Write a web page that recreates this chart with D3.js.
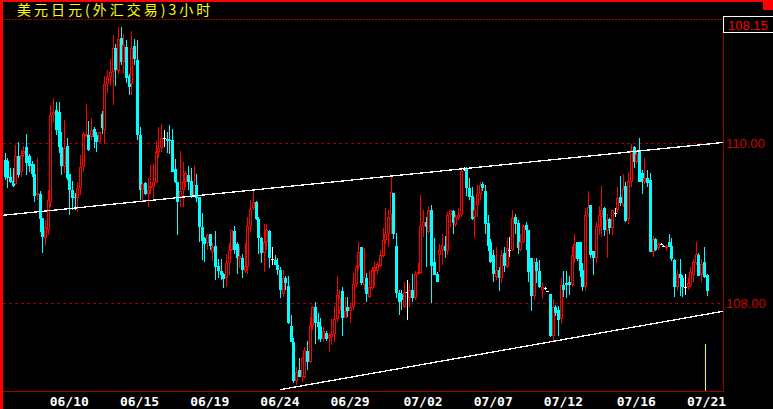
<!DOCTYPE html>
<html><head><meta charset="utf-8">
<script src="https://cdn.jsdelivr.net/npm/d3@7"></script>
<style>html,body{margin:0;padding:0;background:#000;overflow:hidden}svg{display:block}</style>
</head><body>
<script>
// ---------- DATA ----------
const title = "美元日元(外汇交易)3小时";
const open = [109.79,109.78,109.58,109.53,109.49,109.84,109.64,109.87,109.96,109.84,109.74,109.62,109.35,109.37,109.06,108.81,108.92,109.26,110.35,110.42,110.39,109.96,109.71,109.97,109.62,109.42,109.33,109.32,109.44,109.71,110.09,110.11,110.08,110.18,110.10,110.01,110.37,110.17,110.74,110.83,110.89,111.19,110.91,111.31,111.01,111.21,110.84,110.74,111.22,111.04,110.10,109.42,109.50,109.37,109.45,109.46,109.52,109.89,109.94,110.06,110.05,110.04,110.04,109.68,109.52,109.33,109.42,109.52,109.60,109.53,109.34,109.48,109.33,108.95,108.81,108.75,108.87,108.64,108.72,108.47,108.41,108.37,108.32,108.50,108.67,108.90,108.74,108.55,108.57,108.41,108.46,108.97,109.19,109.26,109.05,108.81,108.63,108.77,108.91,108.55,108.54,108.48,108.42,108.12,108.32,108.22,107.72,107.51,107.03,107.17,107.08,107.08,107.40,107.27,107.72,107.95,107.77,107.72,107.55,107.63,107.57,107.58,107.62,107.80,107.90,108.16,107.82,107.95,107.91,107.95,108.24,108.46,108.71,108.23,108.32,108.08,108.19,108.41,108.41,108.47,108.59,108.79,108.87,109.10,109.38,108.72,108.13,108.12,107.95,108.14,108.06,108.17,108.06,108.37,108.38,108.97,109.02,108.89,109.17,108.51,108.37,108.60,108.67,108.72,108.66,109.10,109.16,108.98,109.06,109.10,109.68,109.69,109.44,109.34,109.08,109.23,109.37,109.49,109.41,109.00,108.77,108.60,108.33,108.42,108.31,108.63,108.46,108.67,108.67,109.08,109.00,108.67,108.77,108.98,108.92,108.56,108.09,108.52,108.41,108.17,108.19,108.15,108.12,107.59,107.95,107.92,107.80,108.23,108.25,108.26,108.23,108.55,108.77,108.76,108.42,108.20,109.10,109.23,108.65,108.57,108.96,109.08,109.19,108.91,109.05,108.94,109.13,109.17,109.33,109.23,109.47,109.05,109.52,109.95,109.77,109.92,109.63,109.52,109.56,109.54,108.64,108.80,108.69,108.74,108.72,108.69,108.76,108.72,108.54,108.20,108.37,108.31,108.20,108.20,108.23,108.35,108.50,108.60,108.35,108.51,108.35];
const high = [109.88,109.81,109.69,109.69,109.98,110.02,109.92,109.97,110.12,109.87,109.78,109.74,109.81,109.40,109.06,109.04,109.42,110.48,110.57,110.52,110.51,110.14,110.29,110.07,109.62,109.53,109.38,109.52,109.85,110.14,110.49,110.28,110.32,110.21,110.14,110.14,110.40,110.84,110.92,111.05,111.36,111.24,111.46,111.46,111.37,111.29,110.87,111.40,111.30,111.29,110.21,109.51,109.52,109.56,109.73,109.74,110.03,110.20,110.24,110.17,110.14,110.23,110.18,109.80,109.52,109.90,109.77,109.66,109.72,109.69,109.72,109.62,109.33,109.13,108.83,108.87,108.87,108.75,108.91,108.55,108.55,108.38,108.62,108.75,108.92,108.97,108.76,108.71,108.62,108.75,109.08,109.29,109.41,109.28,109.08,108.83,108.99,108.99,108.92,108.71,108.60,108.57,108.46,108.42,108.34,108.34,107.85,107.56,107.20,107.31,107.33,107.45,107.53,107.83,107.97,108.02,107.88,107.81,107.71,107.65,107.63,107.80,107.97,108.34,108.17,108.20,108.08,108.08,108.00,108.38,108.48,108.77,108.71,108.69,108.38,108.41,108.45,108.51,108.52,108.67,108.94,109.19,109.17,109.58,109.38,108.88,108.17,108.17,108.27,108.29,108.25,108.37,108.41,108.50,109.35,109.17,109.08,109.22,109.23,108.81,108.39,108.74,108.87,108.84,109.14,109.17,109.17,109.12,109.19,109.71,109.71,109.71,109.56,109.45,109.32,109.48,109.52,109.52,109.48,109.11,108.80,108.67,108.71,108.46,108.67,108.71,108.81,108.83,109.17,109.12,109.04,108.87,108.99,109.01,108.92,108.56,108.56,108.56,108.54,108.25,108.21,108.16,108.12,108.05,107.98,107.97,108.31,108.41,108.41,108.34,108.72,108.87,108.77,108.77,108.50,109.19,109.40,109.23,108.66,109.01,109.22,109.47,109.21,109.12,109.06,109.17,109.19,109.46,109.59,109.62,109.52,109.64,109.99,109.97,109.92,110.06,109.67,109.81,109.67,109.63,108.84,108.81,108.76,108.75,108.73,108.73,108.87,108.81,108.55,108.42,108.55,108.35,108.37,108.31,108.45,108.55,108.77,108.63,108.55,108.71,108.37];
const low = [109.54,109.44,109.50,109.46,109.48,109.56,109.58,109.83,109.60,109.64,109.58,109.27,109.29,108.89,108.63,108.72,108.85,109.21,110.27,110.10,109.88,109.60,109.63,109.54,109.11,109.17,109.17,109.14,109.35,109.64,110.08,109.90,110.04,109.94,109.89,110.00,110.12,109.99,110.63,110.72,110.48,110.72,110.87,110.98,110.87,110.75,110.60,110.60,110.98,110.04,109.29,109.28,109.35,109.20,109.37,109.32,109.50,109.82,109.89,109.96,109.88,109.87,109.64,109.50,108.85,109.21,109.21,109.46,109.42,109.31,109.33,109.26,108.77,108.54,108.51,108.67,108.67,108.53,108.29,108.31,108.29,108.19,108.20,108.35,108.66,108.62,108.37,108.44,108.32,108.38,108.37,108.89,109.17,109.04,108.62,108.50,108.39,108.67,108.44,108.48,108.48,108.35,108.06,108.08,108.17,107.74,107.51,107.00,106.98,107.08,107.01,107.06,107.17,107.25,107.67,107.49,107.54,107.51,107.52,107.53,107.39,107.48,107.52,107.77,107.87,107.59,107.81,107.83,107.75,107.92,108.21,108.42,108.23,108.17,108.01,108.07,108.17,108.21,108.37,108.45,108.58,108.74,108.71,108.87,108.80,108.07,107.85,107.92,107.94,107.79,107.96,108.01,108.04,108.35,108.37,108.83,108.45,108.87,108.00,108.35,108.27,108.39,108.48,108.56,108.60,108.96,108.87,108.96,109.04,109.08,109.66,109.34,109.29,109.04,108.82,109.08,109.29,109.40,108.87,108.65,108.50,108.27,108.29,108.16,108.25,108.39,108.44,108.58,108.65,108.87,108.62,108.65,108.75,108.67,108.27,107.91,108.04,108.25,108.19,108.07,108.17,108.14,107.58,107.53,107.84,107.59,107.74,108.08,108.06,108.10,108.21,108.50,108.53,108.33,108.15,108.16,109.08,108.57,108.35,108.50,108.85,108.83,108.84,108.57,108.87,108.85,109.08,109.13,109.22,109.21,109.02,108.99,109.46,109.69,109.74,109.52,109.37,109.49,109.46,108.64,108.58,108.65,108.67,108.73,108.71,108.67,108.70,108.53,108.08,108.17,108.09,108.08,108.10,108.17,108.21,108.26,108.48,108.34,108.26,108.32,108.09];
const close = [109.58,109.57,109.52,109.47,109.84,109.60,109.85,109.90,109.75,109.72,109.62,109.34,109.38,109.05,108.83,108.95,109.29,110.35,110.39,110.17,109.96,109.72,109.94,109.57,109.42,109.32,109.31,109.44,109.71,110.12,110.12,109.92,110.17,110.08,110.02,110.14,110.19,110.74,110.83,110.89,111.19,110.92,111.30,111.01,111.23,110.82,110.71,111.19,111.05,110.10,109.42,109.49,109.37,109.42,109.47,109.52,109.89,109.94,110.06,110.06,110.03,110.03,109.64,109.52,109.27,109.40,109.51,109.63,109.52,109.34,109.48,109.31,108.95,108.78,108.74,108.85,108.72,108.70,108.46,108.41,108.35,108.30,108.50,108.67,108.92,108.67,108.57,108.59,108.42,108.47,108.97,109.18,109.26,109.05,108.81,108.63,108.77,108.92,108.57,108.55,108.48,108.42,108.17,108.31,108.25,107.75,107.51,107.03,107.14,107.08,107.32,107.42,107.27,107.73,107.95,107.75,107.71,107.55,107.65,107.55,107.60,107.62,107.80,108.10,108.06,107.82,107.90,107.90,107.95,108.24,108.46,108.64,108.25,108.33,108.12,108.21,108.42,108.46,108.49,108.61,108.79,108.87,109.08,109.39,108.87,108.13,108.02,108.04,108.14,108.14,108.17,108.06,108.37,108.39,108.97,109.02,108.96,109.17,108.47,108.35,108.27,108.67,108.73,108.66,109.11,109.17,109.00,109.08,109.11,109.66,109.68,109.44,109.33,109.05,109.17,109.37,109.48,109.44,108.99,108.72,108.51,108.37,108.42,108.31,108.60,108.47,108.69,108.67,109.06,108.99,108.69,108.77,108.97,108.92,108.39,108.09,108.52,108.41,108.20,108.20,108.19,108.15,107.59,107.95,107.88,107.79,108.23,108.17,108.23,108.23,108.60,108.74,108.55,108.41,108.20,109.10,109.20,108.60,108.57,108.97,109.10,109.17,108.92,109.04,108.94,109.17,109.13,109.32,109.25,109.43,109.03,109.53,109.92,109.77,109.87,109.52,109.52,109.56,109.50,108.64,108.80,108.67,108.74,108.74,108.72,108.72,108.71,108.55,108.20,108.37,108.31,108.21,108.20,108.25,108.39,108.52,108.62,108.34,108.49,108.33,108.15];
const gridPrices = [110, 108];
const tickLabels = ["06/10","06/15","06/19","06/24","06/29","07/02","07/07","07/12","07/16","07/21"];
const tickBars   = [24, 50, 76, 102, 128, 155, 181, 207, 234, 260];
// trend lines: [bar index, price]
const upperTrend = [[-0.56, 109.10], [266.1, 110.01]];
const lowerTrend = [[102.0, 106.92], [266.1, 107.90]];
const markerPrice = 107.49; // yellow marker top on last bar

// ---------- LAYOUT ----------
const W = 773, H = 409;
const L = 3, R = 723, T = 20, B = 391;
const n = close.length;
const bars = d3.range(n).map(i => ({i, o: open[i], h: high[i], l: low[i], c: close[i]}));

const x = d3.scaleLinear().domain([0, n - 1]).range([4.5, 706.5]);
const y = d3.scaleLinear().domain([108, 110]).range([303.3, 143.3]);

const svg = d3.select("body").append("svg").attr("width", W).attr("height", H);
svg.append("rect").attr("width", W).attr("height", H).attr("fill", "#000");

svg.append("defs").append("clipPath").attr("id", "plot")
  .append("rect").attr("x", L).attr("y", T).attr("width", R - L).attr("height", B - T);

// frame
const dark = "#a00000";
svg.append("line").attr("x1", L).attr("x2", R).attr("y1", 19.5).attr("y2", 19.5)
  .attr("stroke", dark).attr("stroke-dasharray", "2,1");
svg.append("line").attr("x1", R + 0.5).attr("x2", R + 0.5).attr("y1", 19).attr("y2", B + 1)
  .attr("stroke", dark);
svg.append("line").attr("x1", L).attr("x2", R + 1).attr("y1", B + 0.5).attr("y2", B + 0.5)
  .attr("stroke", dark);

// grid
svg.append("g").selectAll("line").data(gridPrices).join("line")
  .attr("x1", L).attr("x2", R).attr("y1", d => Math.round(y(d)) + 0.5).attr("y2", d => Math.round(y(d)) + 0.5)
  .attr("stroke", dark).attr("stroke-dasharray", "3,3");

// right axis labels
const numFont = "'Liberation Sans Narrow','Liberation Sans',Arial,sans-serif";
svg.append("g").selectAll("text").data(gridPrices).join("text")
  .attr("x", 726).attr("y", d => y(d) + 5)
  .attr("fill", "#d40000").attr("font-family", numFont).attr("font-size", 13)
  .text(d => d.toFixed(2));

// header box with last price
svg.append("rect").attr("x", R + 0.5).attr("y", 16.5).attr("width", 60).attr("height", 16)
  .attr("fill", "#000").attr("stroke", "#fff");
svg.append("text").attr("x", 728).attr("y", 30)
  .attr("fill", "#ff0000").attr("font-family", numFont).attr("font-size", 13)
  .text(close[n - 1].toFixed(2));

// candles
const plot = svg.append("g").attr("clip-path", "url(#plot)").attr("shape-rendering", "crispEdges");
const up = "#ff0000", down = "#00ffff", flat = "#ffffff";
bars.forEach(b => {
  const cx = Math.round(x(b.i));
  const yH = Math.round(y(b.h)), yL = Math.round(y(b.l));
  const yO = Math.round(y(b.o)), yC = Math.round(y(b.c));
  const top = Math.min(yO, yC), bot = Math.max(yO, yC);
  if (Math.abs(b.o - b.c) < 0.005) {
    plot.append("rect").attr("x", cx).attr("y", yH).attr("width", 1).attr("height", Math.max(1, yL - yH)).attr("fill", flat);
    plot.append("rect").attr("x", cx - 1).attr("y", yC).attr("width", 3).attr("height", 1).attr("fill", flat);
  } else if (b.c > b.o) {
    if (top > yH) plot.append("rect").attr("x", cx).attr("y", yH).attr("width", 1).attr("height", top - yH).attr("fill", up);
    if (yL > bot) plot.append("rect").attr("x", cx).attr("y", bot).attr("width", 1).attr("height", yL - bot).attr("fill", up);
    plot.append("rect").attr("x", cx - 0.5).attr("y", top + 0.5).attr("width", 2).attr("height", Math.max(1, bot - top - 1))
      .attr("fill", "none").attr("stroke", up).attr("stroke-width", 1);
  } else {
    plot.append("rect").attr("x", cx).attr("y", yH).attr("width", 1).attr("height", Math.max(1, yL - yH)).attr("fill", down);
    plot.append("rect").attr("x", cx - 1).attr("y", top).attr("width", 3).attr("height", Math.max(1, bot - top)).attr("fill", down);
  }
});

// trend lines
const line = d3.line().x(d => x(d[0])).y(d => y(d[1]));
[upperTrend, lowerTrend].forEach(t => {
  svg.append("path").attr("clip-path", "url(#plot)").attr("d", line(t))
    .attr("fill", "none").attr("stroke", "#fff").attr("stroke-width", 1.3).attr("shape-rendering", "crispEdges");
});

// yellow marker on last bar
svg.append("rect").attr("x", Math.round(x(n - 1)) - 2).attr("y", Math.round(y(markerPrice)))
  .attr("width", 1).attr("height", B - Math.round(y(markerPrice)))
  .attr("fill", "#ffff00").attr("shape-rendering", "crispEdges");

// date ticks
svg.append("g").selectAll("text").data(tickLabels).join("text")
  .attr("x", (d, k) => x(tickBars[k])).attr("y", 406).attr("text-anchor", "middle")
  .attr("fill", "#fff").attr("font-family", "'DejaVu Sans Mono',monospace").attr("font-weight", "bold").attr("font-size", 13)
  .text(d => d);

// red border strips
svg.append("rect").attr("x", 0).attr("y", 0).attr("width", W).attr("height", 2).attr("fill", "#ff0000");
svg.append("rect").attr("x", 0).attr("y", 0).attr("width", 3).attr("height", H).attr("fill", "#ff0000");
svg.append("rect").attr("x", 763).attr("y", 0).attr("width", 10).attr("height", 10).attr("fill", "#ff0000");

// title
svg.append("text").attr("x", 17).attr("y", 15)
  .attr("fill", "#ffff00").attr("font-family", "'Noto Sans CJK SC',sans-serif").attr("font-size", 14)
  .attr("letter-spacing", 3).text(title);
</script>
</body></html>
